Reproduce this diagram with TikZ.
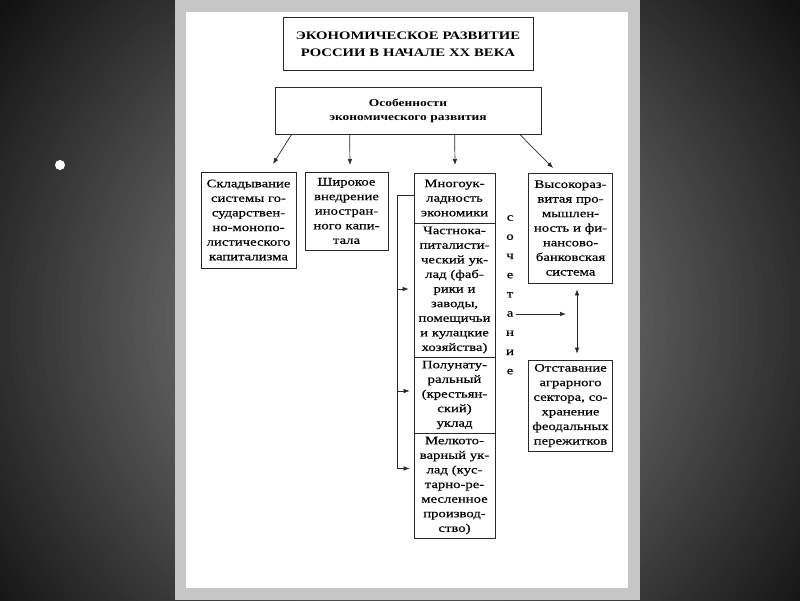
\documentclass[tikz,border=0pt]{standalone}
\usepackage{fontspec}
\setmainfont{Liberation Serif}[FakeStretch=1.28, UprightFeatures={FakeBold=0.4}]
\usetikzlibrary{arrows.meta}
\definecolor{ink}{RGB}{40,40,40}
\definecolor{pageframe}{RGB}{198,198,198}

\begin{document}
\begin{tikzpicture}
		[x=1pt, y=-1pt, every node/.style={inner sep=0pt},
		 box/.style={draw=ink, line width=0.7pt, text=black, align=center, inner xsep=2pt, font=\fontsize{11.5}{14.6}\selectfont},
		 arr/.style={line width=0.7pt, color=ink, -{Latex[length=6pt,width=4.5pt]}},
		 darr/.style={line width=0.7pt, color=ink, {Latex[length=6pt,width=4.5pt]}-{Latex[length=6pt,width=4.5pt]}}]
		\useasboundingbox (0,0) rectangle (800,600);
		% slide and page
		\begin{scope}
			\clip (0,0) rectangle (800,600);
			\fill[black!93] (0,0) rectangle (800,600);
			\foreach \k in {0,...,80} {
				\pgfmathsetmacro\rad{540-6.5*\k}
				\pgfmathsetmacro\shadeval{100*(1-max(0.07,min(0.39,0.39-(\rad-200)*0.00103)))}
				\fill[black!\shadeval] (400,320) circle (\rad);
			}
		\end{scope}
		\fill[pageframe] (175,0) rectangle (640,600);
		\fill[white] (186,12) rectangle (628,588);
		\node (dot) [circle, fill=white, minimum width=10pt, minimum height=9pt] at (60,165) {};
		% boxes
		\node (head) [box, font=\bfseries\fontsize{11.5}{17}\selectfont, minimum width=250pt, minimum height=53pt, text width=246pt] at (408,44) {ЭКОНОМИЧЕСКОЕ РАЗВИТИЕ\\РОССИИ В НАЧАЛЕ XX ВЕКА};
		\node (osob) [box, font=\bfseries\fontsize{10.5}{14}\selectfont, minimum width=266pt, minimum height=47pt, text width=262pt] at (408,110.5) {Особенности\\экономического развития};
		\node (b1) [box, minimum width=95pt, minimum height=96pt, text width=91pt] at (248.5,220) {Складывание\\системы го-\\сударствен-\\но-монопо-\\листического\\капитализма};
		\node (b2) [box, minimum width=83pt, minimum height=78pt, text width=79pt] at (346.5,211) {Широкое\\внедрение\\иностран-\\ного капи-\\тала};
		\node (b3) [box, minimum width=81pt, minimum height=50pt, text width=77pt] at (454.5,198) {Многоук-\\ладность\\экономики};
		\node (b4) [box, minimum width=81pt, minimum height=134pt, text width=77pt] at (454.5,290) {Частнока-\\питалисти-\\ческий ук-\\лад (фаб-\\рики и\\заводы,\\помещичьи\\и кулацкие\\хозяйства)};
		\node (b5) [box, minimum width=81pt, minimum height=76pt, text width=77pt] at (454.5,395) {Полунату-\\ральный\\(крестьян-\\ский)\\уклад};
		\node (b6) [box, minimum width=81pt, minimum height=105pt, text width=77pt] at (454.5,485.5) {Мелкото-\\варный ук-\\лад (кус-\\тарно-ре-\\месленное\\производ-\\ство)};
		\node (b7) [box, minimum width=84pt, minimum height=110pt, text width=80pt] at (570.5,228) {Высокораз-\\витая про-\\мышлен-\\ность и фи-\\нансово-\\банковская\\система};
		\node (b8) [box, minimum width=84pt, minimum height=91pt, text width=80pt] at (570.5,405.5) {Отставание\\аграрного\\сектора, со-\\хранение\\феодальных\\пережитков};
		\foreach \ch [count=\i] in {с,о,ч,е,т,а,н,и,е}
			\node (s\i) [font=\fontsize{11.5}{14}\selectfont, text=black] at (510,198.8+19.2*\i) {\ch};
		% arrows from the features box
		\coordinate (t1) at (273,164);
		\coordinate (t2) at (350,165);
		\coordinate (t3) at (455,165);
		\coordinate (t4) at (553,168);
		\draw [arr] ([xshift=17pt]osob.south west) to (t1);
		\draw [arr] ([xshift=75pt]osob.south west) to (t2);
		\draw [arr] ([xshift=180pt]osob.south west) to (t3);
		\draw [arr] ([xshift=245pt]osob.south west) to (t4);
		% bracket to the sectors
		\coordinate (bx) at (397,195);
		\coordinate (a4) at ([xshift=-5pt,yshift=1pt]b4.west);
		\coordinate (a5) at ([xshift=-4pt,yshift=4pt]b5.west);
		\coordinate (a6) at ([xshift=-4pt,yshift=17pt]b6.west);
		\draw [line width=0.7pt, color=ink] ([yshift=3pt]b3.west) -- (bx) -- (bx |- a6);
		\draw [arr] (bx |- a4) to (a4);
		\draw [arr] (bx |- a5) to (a5);
		\draw [arr] (bx |- a6) to (a6);
		% combination
		\coordinate (vx) at (577,0);
		\draw [arr, shorten >=11pt] ([xshift=3pt]s6.east) to (s6 -| vx);
		\draw [darr, shorten <=6pt, shorten >=6pt] (b7.south -| vx) to (b8.north -| vx);
\end{tikzpicture}
\end{document}
